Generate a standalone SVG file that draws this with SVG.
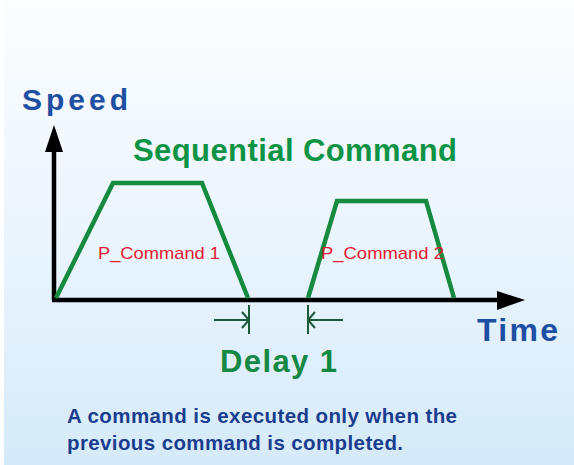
<svg xmlns="http://www.w3.org/2000/svg" width="574" height="465" viewBox="0 0 574 465">
<defs>
<linearGradient id="bg" x1="0" y1="0" x2="0" y2="1">
<stop offset="0" stop-color="#fbfdff"/>
<stop offset="0.5" stop-color="#ebf5fd"/>
<stop offset="1" stop-color="#d5eaf9"/>
</linearGradient>
<style>
.ax{stroke:#000;stroke-width:4.5;fill:none}
.head{fill:#000}
.prof{stroke:#168a3e;stroke-width:4.5;fill:none;stroke-linejoin:miter}
.dl{stroke:#1d5a38;stroke-width:2;fill:none}
.blue{font-family:"Liberation Sans",Arial,sans-serif;font-weight:bold;fill:#1f4fa3}
.green{font-family:"Liberation Sans",Arial,sans-serif;font-weight:bold;fill:#0f9446}
.red{font-family:"Liberation Sans",Arial,sans-serif;fill:#e31b2d;font-size:17px}
.note{font-family:"Liberation Sans",Arial,sans-serif;font-weight:bold;fill:#1b3d8f;font-size:20.5px}
</style>
</defs>
<rect width="574" height="465" fill="#ffffff"/>
<rect x="4" y="0" width="570" height="465" fill="url(#bg)"/>
<g id="axes">
<line class="ax" x1="54" y1="300" x2="54" y2="148"/>
<polygon class="head" points="54,125 45,152 63,152"/>
<line class="ax" x1="52" y1="300" x2="500" y2="300"/>
<polygon class="head" points="525,300 497,291 497,310"/>
</g>
<g id="speed-label"><text class="blue" x="22" y="110" font-size="30" textLength="106" lengthAdjust="spacing">Speed</text></g>
<g id="time-label"><text class="blue" x="477" y="341" font-size="32" textLength="81" lengthAdjust="spacing">Time</text></g>
<g id="title"><text class="green" x="133" y="161" font-size="31" textLength="324" lengthAdjust="spacing">Sequential Command</text></g>
<g id="command1">
<polyline class="prof" points="56,298 113,183 202,183 248,298"/>
<text class="red" x="98" y="259" textLength="122" lengthAdjust="spacingAndGlyphs">P_Command 1</text>
</g>
<g id="command2">
<polyline class="prof" points="308,298 337,201 426,201 454,298"/>
<text class="red" x="321" y="259" textLength="123" lengthAdjust="spacingAndGlyphs">P_Command 2</text>
</g>
<g id="connectors">
<line class="dl" x1="214" y1="320" x2="249" y2="320"/>
<line class="dl" x1="249" y1="305" x2="249" y2="334"/>
<polyline class="dl" points="242,312 249,320 242,328"/>
<line class="dl" x1="308" y1="320" x2="343" y2="320"/>
<line class="dl" x1="308" y1="305" x2="308" y2="334"/>
<polyline class="dl" points="315,312 308,320 315,328"/>
</g>
<g id="delay-label"><text class="green" x="220" y="372" font-size="31" style="fill:#158843" textLength="117" lengthAdjust="spacing">Delay 1</text></g>
<g id="note">
<text class="note" x="67" y="423" textLength="390" lengthAdjust="spacing">A command is executed only when the</text>
<text class="note" x="67" y="450" textLength="336" lengthAdjust="spacing">previous command is completed.</text>
</g>
</svg>
